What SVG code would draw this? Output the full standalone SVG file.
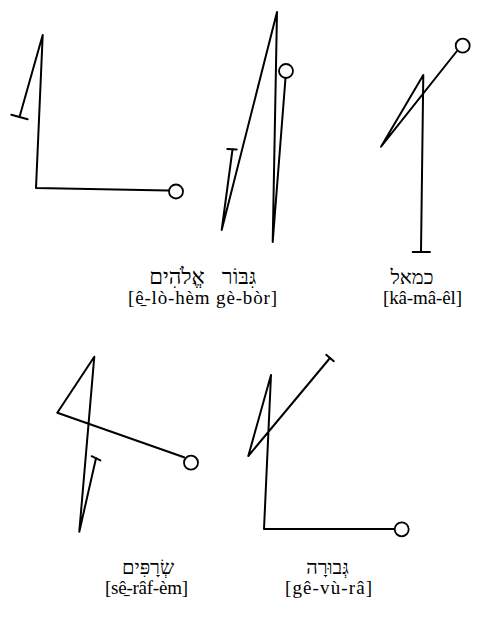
<svg xmlns="http://www.w3.org/2000/svg" width="490" height="621" viewBox="0 0 490 621">
<style>
.ln{fill:none;stroke:#000;stroke-width:2;stroke-linecap:round;stroke-linejoin:round}
.cir{fill:#fff;stroke:#000;stroke-width:1.8}
.heb{font-family:"Liberation Serif","DejaVu Sans",serif;font-size:20px;fill:#000;text-anchor:middle}
.hebL{font-size:22px}
.tr{font-family:"Liberation Serif","DejaVu Serif",serif;font-size:19px;fill:#000;text-anchor:middle}
</style>
<rect width="490" height="621" fill="#fff"/>
<g id="elohim-gibbor-figure">
<path class="ln" d="M19.5,117 L42.7,35 L36,188 L168,190.5"/>
<path class="ln" d="M11.3,114.7 L27.7,119.3"/>
<circle class="cir" cx="176" cy="191.5" r="7"/>
</g>
<g id="seraphim-middle-figure">
<path class="ln" d="M232.5,149.5 L221.7,230 L277,12 L272.7,242 L285.5,78"/>
<path class="ln" d="M227.3,149 L236.7,149.5"/>
<circle class="cir" cx="286" cy="71" r="7"/>
</g>
<g id="kamael-figure">
<path class="ln" d="M457,51 L381,146.7 L423.3,75 L421,251.7"/>
<path class="ln" d="M412.7,252 L430,252"/>
<circle class="cir" cx="462.7" cy="45.7" r="7"/>
</g>
<g id="label-elohim-gibbor">
<text class="heb hebL" x="177" y="284">אֱלֹהִים</text>
<text class="heb hebL" x="239" y="284">גִּבּוֹר</text>
<text class="tr" x="202.5" y="304" textLength="149" lengthAdjust="spacing">[ê̱-lò-hèm gè-bòr]</text>
</g>
<g id="label-kamael">
<text class="heb" x="412" y="284">כמאל</text>
<text class="tr" x="422.5" y="304" textLength="79" lengthAdjust="spacing">[kâ-mâ-êl]</text>
</g>
<g id="seraphim-figure">
<path class="ln" d="M184,457.3 L57.3,412.7 L94.3,356.7 L79.3,531.7 L96,458.3"/>
<path class="ln" d="M91.6,456.2 L100.4,460.4"/>
<circle class="cir" cx="191" cy="462.7" r="7"/>
</g>
<g id="gevurah-figure">
<path class="ln" d="M330,358 L248.3,456 L271,375 L264,529 L394,529"/>
<path class="ln" d="M326.2,354.8 L333.8,361.2"/>
<circle class="cir" cx="401.7" cy="529.3" r="7"/>
</g>
<g id="label-seraphim">
<text class="heb" x="148" y="574">שְׂרָפִּים</text>
<text class="tr" x="146.5" y="594" textLength="83" lengthAdjust="spacing">[sê̱-râf-èm]</text>
</g>
<g id="label-gevurah">
<text class="heb" x="327.5" y="574">גְּבוּרָה</text>
<text class="tr" x="328.5" y="594" textLength="87" lengthAdjust="spacing">[gê-vù-râ]</text>
</g>
<g id="connectors"></g>
</svg>
